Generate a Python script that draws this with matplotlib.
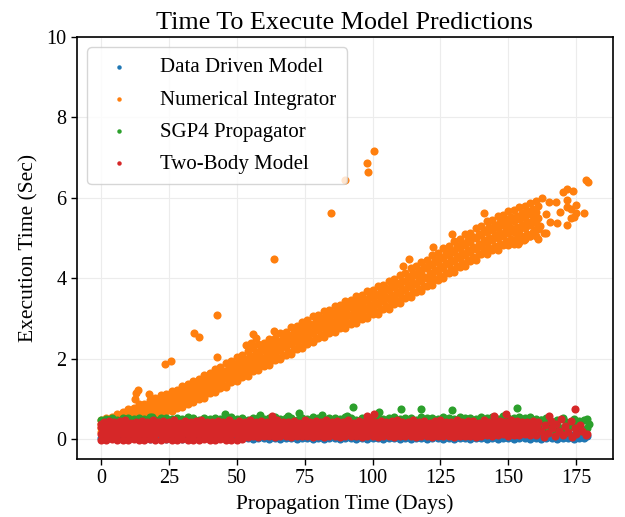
import matplotlib
matplotlib.use("Agg")
import matplotlib.pyplot as plt

plt.rcParams['font.family'] = ['Liberation Serif', 'DejaVu Serif']

# ---- data (days, seconds) ----
# Numerical Integrator: dense band, read every 2 days on seven rows across the band
# (rows alternate between even and odd days)
orange_days = list(range(0, 162, 2))
orange_days_odd = list(range(1, 163, 2))
orange_low = [0.18, 0.22, 0.27, 0.29, 0.35, 0.37, 0.44, 0.45, 0.52, 0.53,
              0.60, 0.62, 0.69, 0.70, 0.78, 0.80, 0.88, 0.92, 1.00, 1.03,
              1.13, 1.16, 1.26, 1.30, 1.41, 1.44, 1.54, 1.57, 1.68, 1.71,
              1.82, 1.85, 1.96, 1.99, 2.09, 2.12, 2.23, 2.26, 2.37, 2.40,
              2.51, 2.53, 2.63, 2.65, 2.75, 2.76, 2.87, 2.88, 2.99, 3.00,
              3.11, 3.11, 3.23, 3.24, 3.36, 3.37, 3.51, 3.53, 3.66, 3.67,
              3.81, 3.84, 3.96, 4.00, 4.13, 4.15, 4.28, 4.31, 4.43, 4.46,
              4.59, 4.60, 4.71, 4.71, 4.82, 4.83, 4.86, 4.90, 4.98, 5.05,
              5.06]
orange_m67 = [0.23, 0.27, 0.31, 0.36, 0.39, 0.44, 0.48, 0.52, 0.57, 0.61,
              0.65, 0.70, 0.75, 0.80, 0.84, 0.89, 0.95, 1.01, 1.08, 1.14,
              1.20, 1.27, 1.34, 1.41, 1.48, 1.55, 1.62, 1.69, 1.76, 1.83,
              1.90, 1.97, 2.04, 2.10, 2.17, 2.24, 2.31, 2.38, 2.45, 2.52,
              2.59, 2.65, 2.71, 2.77, 2.83, 2.89, 2.95, 3.01, 3.07, 3.13,
              3.19, 3.24, 3.31, 3.37, 3.44, 3.50, 3.59, 3.66, 3.74, 3.81,
              3.90, 3.98, 4.05, 4.14, 4.22, 4.29, 4.37, 4.45, 4.53, 4.61,
              4.69, 4.75, 4.81, 4.86, 4.92, 4.98, 5.01, 5.05, 5.10, 5.16,
              5.22]
orange_m33 = [0.27, 0.32, 0.36, 0.41, 0.45, 0.49, 0.54, 0.59, 0.63, 0.68,
              0.73, 0.78, 0.82, 0.87, 0.92, 0.97, 1.04, 1.10, 1.16, 1.22,
              1.29, 1.36, 1.43, 1.51, 1.58, 1.65, 1.71, 1.78, 1.86, 1.93,
              2.00, 2.07, 2.14, 2.21, 2.28, 2.35, 2.42, 2.49, 2.56, 2.63,
              2.70, 2.76, 2.82, 2.88, 2.94, 2.99, 3.05, 3.11, 3.17, 3.23,
              3.29, 3.35, 3.42, 3.48, 3.55, 3.61, 3.71, 3.78, 3.86, 3.92,
              4.01, 4.09, 4.17, 4.26, 4.34, 4.42, 4.50, 4.58, 4.65, 4.73,
              4.81, 4.88, 4.94, 5.00, 5.06, 5.12, 5.14, 5.19, 5.24, 5.31,
              5.36]
orange_mid = [0.32, 0.37, 0.41, 0.46, 0.50, 0.55, 0.60, 0.65, 0.70, 0.75,
              0.80, 0.85, 0.90, 0.95, 1.00, 1.05, 1.12, 1.18, 1.25, 1.31,
              1.38, 1.45, 1.52, 1.60, 1.67, 1.74, 1.81, 1.88, 1.96, 2.03,
              2.10, 2.17, 2.24, 2.31, 2.38, 2.45, 2.52, 2.59, 2.66, 2.73,
              2.80, 2.86, 2.92, 2.98, 3.04, 3.10, 3.16, 3.22, 3.28, 3.34,
              3.40, 3.46, 3.53, 3.59, 3.66, 3.72, 3.82, 3.89, 3.97, 4.04,
              4.13, 4.21, 4.29, 4.38, 4.46, 4.54, 4.62, 4.70, 4.78, 4.86,
              4.94, 5.01, 5.07, 5.13, 5.19, 5.25, 5.28, 5.33, 5.39, 5.45,
              5.50]
orange_p33 = [0.37, 0.42, 0.46, 0.51, 0.55, 0.61, 0.66, 0.71, 0.77, 0.82,
              0.87, 0.92, 0.98, 1.03, 1.08, 1.13, 1.20, 1.26, 1.34, 1.40,
              1.47, 1.54, 1.61, 1.69, 1.76, 1.83, 1.91, 1.98, 2.06, 2.13,
              2.20, 2.27, 2.34, 2.41, 2.48, 2.55, 2.62, 2.69, 2.76, 2.83,
              2.90, 2.96, 3.02, 3.08, 3.14, 3.21, 3.27, 3.33, 3.39, 3.45,
              3.51, 3.57, 3.64, 3.70, 3.77, 3.83, 3.93, 4.00, 4.08, 4.16,
              4.25, 4.33, 4.41, 4.50, 4.58, 4.66, 4.74, 4.82, 4.91, 4.99,
              5.07, 5.14, 5.20, 5.26, 5.32, 5.38, 5.42, 5.47, 5.53, 5.59,
              5.64]
orange_p67 = [0.41, 0.47, 0.51, 0.56, 0.61, 0.66, 0.72, 0.78, 0.83, 0.89,
              0.95, 1.00, 1.05, 1.10, 1.16, 1.21, 1.29, 1.35, 1.42, 1.48,
              1.56, 1.63, 1.70, 1.79, 1.86, 1.93, 2.00, 2.07, 2.16, 2.23,
              2.30, 2.37, 2.44, 2.52, 2.59, 2.66, 2.73, 2.80, 2.87, 2.94,
              3.01, 3.07, 3.13, 3.19, 3.25, 3.31, 3.37, 3.43, 3.49, 3.55,
              3.61, 3.68, 3.75, 3.81, 3.88, 3.94, 4.05, 4.12, 4.20, 4.27,
              4.36, 4.44, 4.53, 4.62, 4.70, 4.79, 4.87, 4.95, 5.03, 5.11,
              5.19, 5.27, 5.33, 5.40, 5.46, 5.52, 5.55, 5.61, 5.67, 5.73,
              5.79]
orange_high = [0.46, 0.53, 0.55, 0.63, 0.66, 0.74, 0.77, 0.86, 0.88, 0.98,
               1.01, 1.09, 1.12, 1.20, 1.22, 1.31, 1.36, 1.45, 1.50, 1.59,
               1.64, 1.74, 1.78, 1.90, 1.93, 2.04, 2.08, 2.19, 2.25, 2.35,
               2.38, 2.49, 2.52, 2.64, 2.67, 2.78, 2.81, 2.92, 2.95, 3.06,
               3.09, 3.19, 3.21, 3.31, 3.33, 3.44, 3.46, 3.56, 3.58, 3.68,
               3.70, 3.81, 3.84, 3.94, 3.97, 4.07, 4.14, 4.25, 4.29, 4.41,
               4.46, 4.58, 4.63, 4.76, 4.80, 4.93, 4.97, 5.09, 5.13, 5.26,
               5.30, 5.42, 5.44, 5.55, 5.57, 5.67, 5.70, 5.76, 5.80, 5.88,
               5.92]
# sparse tail and stray points of the Numerical Integrator
orange_extra_x = [12.5, 12.8, 13.5, 17.8, 23.7, 25.8, 34.1, 36.2, 42.7, 42.9,
                  53.3, 55.2, 56.1, 57.2, 63.7, 63.7, 84.7, 90.0, 97.9, 98.3,
                  100.4, 111.3, 113.3, 122.4, 129.4, 141.0, 147.7,
                  153.7, 153.7, 154.7, 155.8, 156.3, 156.8, 157.8, 158.3, 158.8, 159.8,
                  160.3, 160.8, 161.8, 162.5, 163.0, 163.7, 163.8, 165.0, 165.4, 167.4,
                  168.0, 168.9, 170.2, 171.4, 171.6, 171.6, 171.6, 172.9, 172.9, 173.9,
                  174.2, 174.8, 174.9, 177.8, 178.4, 179.3]
orange_extra_y = [0.99, 1.15, 1.22, 1.12, 1.87, 1.93, 2.64, 2.54, 3.08, 2.05,
                  2.34, 2.38, 2.60, 2.50, 2.69, 4.47, 5.62, 6.44, 6.86, 6.65,
                  7.17, 4.29, 4.47, 4.78, 5.09, 5.61, 5.55,
                  4.85, 5.15, 5.50, 4.95, 5.30, 5.60, 5.05, 5.40, 5.70, 5.20,
                  5.50, 4.98, 5.30, 5.99, 5.12, 5.12, 5.60, 5.90, 5.40, 5.90,
                  5.37, 5.65, 6.15, 5.76, 6.21, 5.95, 5.32, 5.71, 5.49, 6.18,
                  5.53, 5.61, 5.81, 5.61, 6.43, 6.38]

# Two-Body Model: dense band near zero, seven rows
red_days = list(range(0, 160, 2))
red_days_odd = list(range(1, 161, 2))
red_r0 = [-0.02, -0.03, -0.01, -0.02, -0.03, -0.02, -0.01, -0.03, -0.02, -0.01,
          -0.03, -0.02, -0.01, -0.02, -0.03, -0.01, -0.02, -0.03, -0.02, -0.01,
          -0.02, -0.03, -0.01, -0.02, -0.03, -0.02, -0.01, 0.05, 0.06, 0.05,
          0.06, 0.07, 0.05, 0.06, 0.07, 0.05, 0.06, 0.06, 0.07, 0.05,
          0.06, 0.05, 0.07, 0.06, 0.05, 0.06, 0.07, 0.06, 0.05, 0.07,
          0.06, 0.05, 0.06, 0.07, 0.05, 0.06, 0.06, 0.07, 0.05, 0.06,
          0.07, 0.05, 0.06, 0.06, 0.07, 0.05, 0.06, 0.07, 0.06, 0.05,
          0.08, 0.10, 0.07, 0.09, 0.11, 0.08, 0.10, 0.09, 0.11, 0.10]
red_ra = [0.11, 0.09, 0.12, 0.10, 0.11, 0.13, 0.09, 0.11, 0.12, 0.10,
          0.11, 0.13, 0.10, 0.12, 0.09, 0.11, 0.12, 0.10, 0.13, 0.11,
          0.10, 0.12, 0.11, 0.09, 0.12, 0.13, 0.11, 0.10, 0.12, 0.11,
          0.13, 0.10, 0.11, 0.12, 0.09, 0.11, 0.13, 0.10, 0.12, 0.11,
          0.10, 0.12, 0.13, 0.11, 0.10, 0.12, 0.11, 0.09, 0.12, 0.13,
          0.11, 0.10, 0.12, 0.11, 0.13, 0.10, 0.12, 0.11, 0.09, 0.12,
          0.13, 0.11, 0.10, 0.12, 0.11, 0.13, 0.10, 0.12, 0.11, 0.10,
          0.15, 0.16, 0.14, 0.16, 0.17, 0.15, 0.16, 0.15, 0.17, 0.16]
red_r1 = [0.16, 0.18, 0.15, 0.17, 0.19, 0.16, 0.18, 0.15, 0.17, 0.16,
          0.18, 0.15, 0.17, 0.19, 0.16, 0.18, 0.17, 0.15, 0.18, 0.16,
          0.17, 0.19, 0.16, 0.18, 0.15, 0.17, 0.18, 0.16, 0.19, 0.17,
          0.15, 0.18, 0.16, 0.17, 0.19, 0.16, 0.18, 0.15, 0.17, 0.18,
          0.16, 0.19, 0.17, 0.15, 0.18, 0.16, 0.17, 0.19, 0.16, 0.18,
          0.15, 0.17, 0.18, 0.16, 0.19, 0.17, 0.15, 0.18, 0.16, 0.17,
          0.19, 0.16, 0.18, 0.15, 0.17, 0.18, 0.16, 0.19, 0.17, 0.15,
          0.20, 0.22, 0.19, 0.21, 0.23, 0.20, 0.22, 0.21, 0.19, 0.22]
red_rb = [0.23, 0.25, 0.22, 0.24, 0.23, 0.21, 0.24, 0.25, 0.22, 0.23,
          0.24, 0.22, 0.25, 0.23, 0.21, 0.24, 0.23, 0.25, 0.22, 0.24,
          0.23, 0.21, 0.24, 0.22, 0.25, 0.23, 0.24, 0.22, 0.23, 0.25,
          0.21, 0.24, 0.23, 0.22, 0.25, 0.24, 0.23, 0.21, 0.24, 0.22,
          0.25, 0.23, 0.24, 0.22, 0.23, 0.25, 0.21, 0.24, 0.23, 0.22,
          0.24, 0.25, 0.23, 0.21, 0.24, 0.22, 0.23, 0.25, 0.24, 0.22,
          0.23, 0.21, 0.24, 0.25, 0.22, 0.23, 0.24, 0.22, 0.25, 0.23,
          0.26, 0.28, 0.25, 0.27, 0.29, 0.26, 0.28, 0.27, 0.25, 0.28]
red_r2 = [0.30, 0.28, 0.31, 0.29, 0.32, 0.30, 0.28, 0.31, 0.33, 0.29,
          0.30, 0.32, 0.28, 0.31, 0.29, 0.30, 0.33, 0.28, 0.31, 0.30,
          0.29, 0.32, 0.30, 0.28, 0.31, 0.33, 0.29, 0.30, 0.32, 0.28,
          0.31, 0.29, 0.30, 0.33, 0.28, 0.31, 0.30, 0.29, 0.32, 0.30,
          0.28, 0.31, 0.33, 0.29, 0.30, 0.32, 0.28, 0.31, 0.29, 0.30,
          0.33, 0.28, 0.31, 0.30, 0.29, 0.32, 0.30, 0.28, 0.31, 0.33,
          0.29, 0.30, 0.32, 0.28, 0.31, 0.29, 0.30, 0.33, 0.28, 0.31,
          0.32, 0.34, 0.31, 0.33, 0.35, 0.32, 0.34, 0.33, 0.31, 0.34]
red_rc = [0.37, 0.35, 0.38, 0.36, 0.39, 0.37, 0.35, 0.38, 0.36, 0.37,
          0.39, 0.36, 0.38, 0.35, 0.37, 0.38, 0.36, 0.39, 0.37, 0.35,
          0.38, 0.36, 0.37, 0.39, 0.35, 0.38, 0.37, 0.36, 0.38, 0.39,
          0.36, 0.37, 0.35, 0.38, 0.37, 0.39, 0.36, 0.38, 0.35, 0.37,
          0.38, 0.36, 0.39, 0.37, 0.35, 0.38, 0.36, 0.37, 0.39, 0.36,
          0.38, 0.35, 0.37, 0.38, 0.36, 0.39, 0.37, 0.35, 0.38, 0.36,
          0.37, 0.39, 0.36, 0.38, 0.35, 0.37, 0.38, 0.36, 0.39, 0.37,
          0.38, 0.40, 0.37, 0.39, 0.41, 0.38, 0.40, 0.39, 0.37, 0.40]
red_r3 = [0.42, 0.45, 0.41, 0.44, 0.46, 0.40, 0.43, 0.45, 0.42, 0.47,
          0.41, 0.44, 0.43, 0.46, 0.40, 0.45, 0.42, 0.44, 0.47, 0.41,
          0.43, 0.45, 0.42, 0.46, 0.40, 0.44, 0.43, 0.47, 0.41, 0.45,
          0.42, 0.44, 0.46, 0.41, 0.43, 0.45, 0.40, 0.47, 0.42, 0.44,
          0.43, 0.46, 0.41, 0.45, 0.42, 0.47, 0.40, 0.44, 0.43, 0.46,
          0.41, 0.45, 0.42, 0.44, 0.47, 0.41, 0.43, 0.46, 0.42, 0.45,
          0.40, 0.44, 0.47, 0.43, 0.41, 0.46, 0.42, 0.45, 0.44, 0.40,
          0.47, 0.43, 0.41, 0.45, 0.42, 0.46, 0.44, 0.41, 0.43, 0.45]
red_extra_x = [63.1, 97.9, 100.5, 144.6, 149.0, 164.9, 174.5, 179.0,
               160.0, 160.5, 161.0, 162.0, 163.0, 163.5, 164.5, 165.5, 166.0, 167.0,
               167.5, 168.5, 169.5, 170.0, 171.0, 172.0, 173.0, 173.5, 174.5, 175.0,
               176.5, 177.0, 178.5]
red_extra_y = [0.58, 0.57, 0.62, 0.57, 0.61, 0.57, 0.74, 0.12,
               0.10, 0.30, 0.42, 0.20, 0.05, 0.35, 0.15, 0.45, 0.28, 0.08,
               0.38, 0.20, 0.50, 0.10, 0.32, 0.18, 0.45, 0.05, 0.27, 0.12,
               0.35, 0.20, 0.10]

# SGP4 Propagator: sits just above / under the red band
green_days = list(range(0, 180, 2))
green_days_odd = list(range(1, 181, 2))
green_top = [0.47, 0.50, 0.52, 0.48, 0.51, 0.53, 0.49, 0.52, 0.50, 0.54,
             0.48, 0.51, 0.53, 0.50, 0.52, 0.49, 0.54, 0.51, 0.48, 0.52,
             0.50, 0.53, 0.49, 0.51, 0.54, 0.50, 0.52, 0.48, 0.53, 0.51,
             0.49, 0.52, 0.54, 0.50, 0.51, 0.53, 0.48, 0.52, 0.50, 0.54,
             0.51, 0.49, 0.53, 0.52, 0.50, 0.55, 0.51, 0.48, 0.53, 0.50,
             0.54, 0.52, 0.49, 0.51, 0.55, 0.50, 0.53, 0.52, 0.48, 0.54,
             0.51, 0.53, 0.50, 0.55, 0.52, 0.49, 0.54, 0.51, 0.53, 0.50,
             0.55, 0.52, 0.54, 0.50, 0.56, 0.53, 0.51, 0.55, 0.52, 0.54,
             0.50, 0.46, 0.53, 0.40, 0.48, 0.52, 0.38, 0.50, 0.44, 0.47]
green_low = [0.22, 0.25, 0.20, 0.27, 0.23, 0.26, 0.21, 0.24, 0.28, 0.22,
             0.25, 0.20, 0.27, 0.23, 0.26, 0.21, 0.24, 0.28, 0.22, 0.25,
             0.20, 0.27, 0.23, 0.26, 0.21, 0.24, 0.28, 0.22, 0.25, 0.20,
             0.27, 0.23, 0.26, 0.21, 0.24, 0.28, 0.22, 0.25, 0.20, 0.27,
             0.23, 0.26, 0.21, 0.24, 0.28, 0.22, 0.25, 0.20, 0.27, 0.23,
             0.26, 0.21, 0.24, 0.28, 0.22, 0.25, 0.20, 0.27, 0.23, 0.26,
             0.21, 0.24, 0.28, 0.22, 0.25, 0.20, 0.27, 0.23, 0.26, 0.21,
             0.24, 0.28, 0.22, 0.25, 0.20, 0.27, 0.23, 0.26, 0.21, 0.24,
             0.30, 0.18, 0.33, 0.22, 0.28, 0.15, 0.31, 0.25, 0.19, 0.27]
green_extra_x = [18.8, 45.7, 58.7, 68.9, 72.9, 81.5, 90.7, 92.9, 102.4, 110.3,
                 117.7, 129.4, 153.2, 161.9, 164.8, 168.0, 171.1, 172.9, 174.1,
                 179.0, 179.8]
green_extra_y = [0.54, 0.62, 0.60, 0.58, 0.65, 0.60, 0.57, 0.80, 0.66, 0.75,
                 0.75, 0.72, 0.78, 0.46, 0.40, 0.35, 0.43, 0.39, 0.37,
                 0.50, 0.37]

# Data Driven Model: hugging zero
blue_days = list(range(0, 180, 2))
blue_low = [0.01, 0.00, 0.02, 0.01, 0.00, 0.01, 0.02, 0.00, 0.01, 0.00,
            0.02, 0.01, 0.00, 0.01, 0.02, 0.00, 0.01, 0.00, 0.02, 0.01,
            0.00, 0.01, 0.02, 0.00, 0.01, 0.00, 0.02, 0.01, 0.00, 0.01,
            0.02, 0.00, 0.01, 0.00, 0.02, 0.01, 0.00, 0.01, 0.02, 0.00,
            0.01, 0.00, 0.02, 0.01, 0.00, 0.01, 0.02, 0.00, 0.01, 0.00,
            0.02, 0.01, 0.00, 0.01, 0.02, 0.00, 0.01, 0.00, 0.02, 0.01,
            0.00, 0.01, 0.02, 0.00, 0.01, 0.00, 0.02, 0.01, 0.00, 0.01,
            0.02, 0.00, 0.01, 0.00, 0.02, 0.01, 0.00, 0.01, 0.02, 0.00,
            0.01, 0.00, 0.02, 0.01, 0.00, 0.01, 0.02, 0.00, 0.01, 0.03]
blue_hi_days = list(range(141, 181, 2))
blue_hi = [0.06, 0.09, 0.07, 0.10, 0.08, 0.06, 0.11, 0.08, 0.07, 0.10,
           0.09, 0.12, 0.07, 0.10, 0.08, 0.11, 0.09, 0.06, 0.08, 0.06]

labels = ['Data Driven Model', 'Numerical Integrator', 'SGP4 Propagator', 'Two-Body Model']
colors = ['#1f77b4', '#ff7f0e', '#2ca02c', '#d62728']

fig = plt.figure(figsize=(6.25, 5.17), dpi=100)
ax = fig.add_axes([0.1232, 0.1122, 0.8576, 0.8162])

dot = dict(s=34, linewidths=0)

ax.scatter(blue_days + blue_hi_days, blue_low + blue_hi, color=colors[0], label=labels[0], **dot)

ox = orange_days * 4 + orange_days_odd * 3
oy = (orange_low + orange_m33 + orange_p33 + orange_high
      + orange_m67 + orange_mid + orange_p67)
ax.scatter(ox + orange_extra_x, oy + orange_extra_y, color=colors[1], label=labels[1], **dot)

ax.scatter(green_days + green_days_odd + green_extra_x, green_top + green_low + green_extra_y,
           color=colors[2], label=labels[2], **dot)

rx = red_days * 4 + red_days_odd * 3
ry = red_r0 + red_ra + red_r2 + red_rc + red_r1 + red_rb + red_r3
ax.scatter(rx + red_extra_x, ry + red_extra_y, color=colors[3], label=labels[3], **dot)

ax.set_xlim(-8.8, 188.5)
ax.set_ylim(-0.5, 10)
ax.set_xticks([0, 25, 50, 75, 100, 125, 150, 175])
ax.set_yticks([0, 2, 4, 6, 8, 10])
ax.tick_params(labelsize=14.5, length=4, width=1)
ax.grid(color='#ececec', linewidth=0.8)
ax.set_axisbelow(True)
for sp in ax.spines.values():
    sp.set_linewidth(1.2)
    sp.set_color('black')

ax.set_xlabel('Propagation Time (Days)', fontsize=15.5, labelpad=4)
ax.set_ylabel('Execution Time (Sec)', fontsize=15.5, labelpad=6)
ax.set_title('Time To Execute Model Predictions', fontsize=18.8)

ax.legend(loc='upper left', fontsize=15, markerscale=0.55, handletextpad=1.0,
          borderpad=0.5, labelspacing=0.6)

fig.savefig('out.png', dpi=100)
